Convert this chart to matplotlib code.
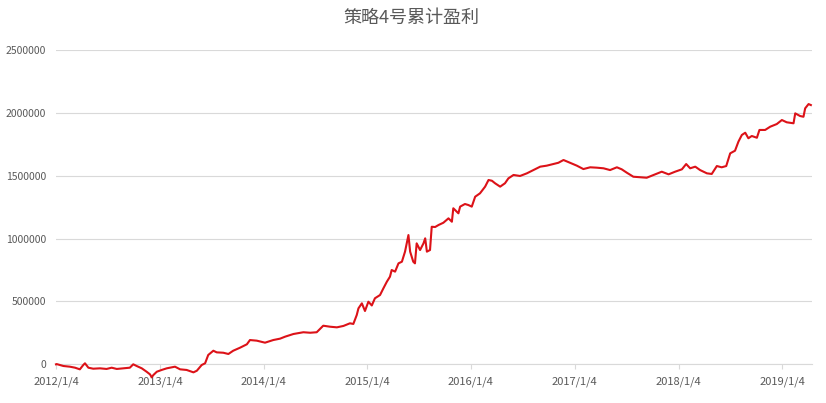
import matplotlib
matplotlib.use("Agg")
import matplotlib.pyplot as plt
import numpy as np

plt.rcParams['font.family'] = ['Noto Sans CJK SC', 'DejaVu Sans']

# cumulative profit
dates = [
    "2012-01-04", "2012-01-06", "2012-01-30", "2012-02-22", "2012-03-11", "2012-03-28",
    "2012-04-09", "2012-04-15", "2012-04-27", "2012-05-14", "2012-06-07", "2012-06-30",
    "2012-07-18", "2012-08-05", "2012-08-28", "2012-09-20", "2012-10-02", "2012-10-14",
    "2012-11-01", "2012-11-18", "2012-11-30", "2012-12-06", "2012-12-12", "2012-12-24",
    "2013-01-10", "2013-01-28", "2013-02-26", "2013-03-16", "2013-04-08", "2013-05-02",
    "2013-05-14", "2013-05-31", "2013-06-12", "2013-06-23", "2013-07-11", "2013-07-23",
    "2013-08-15", "2013-09-02", "2013-09-19", "2013-10-13", "2013-11-06", "2013-11-17",
    "2013-12-11", "2014-01-09", "2014-02-07", "2014-03-03", "2014-03-21", "2014-04-19",
    "2014-05-24", "2014-06-17", "2014-07-10", "2014-08-02", "2014-08-26", "2014-09-19",
    "2014-10-12", "2014-11-04", "2014-11-16", "2014-11-28", "2014-12-04", "2014-12-16",
    "2014-12-27", "2015-01-08", "2015-01-20", "2015-01-31", "2015-02-18", "2015-03-02",
    "2015-03-14", "2015-03-25", "2015-03-31", "2015-04-12", "2015-04-24", "2015-05-06",
    "2015-05-17", "2015-05-29", "2015-06-04", "2015-06-15", "2015-06-21", "2015-06-27",
    "2015-07-09", "2015-07-21", "2015-07-27", "2015-08-02", "2015-08-13", "2015-08-19",
    "2015-08-31", "2015-09-12", "2015-09-29", "2015-10-17", "2015-10-29", "2015-11-03",
    "2015-11-21", "2015-11-27", "2015-12-14", "2015-12-26", "2016-01-07", "2016-01-19",
    "2016-02-05", "2016-02-23", "2016-03-06", "2016-03-18", "2016-03-29", "2016-04-16",
    "2016-05-03", "2016-05-15", "2016-06-02", "2016-06-25", "2016-07-19", "2016-08-11",
    "2016-09-04", "2016-09-27", "2016-10-21", "2016-11-07", "2016-11-25", "2016-12-18",
    "2017-01-11", "2017-02-03", "2017-02-27", "2017-03-22", "2017-04-15", "2017-05-08",
    "2017-06-01", "2017-06-18", "2017-07-06", "2017-07-29", "2017-08-28", "2017-09-14",
    "2017-10-08", "2017-11-06", "2017-11-30", "2017-12-23", "2018-01-16", "2018-01-31",
    "2018-02-14", "2018-03-04", "2018-03-21", "2018-04-14", "2018-05-01", "2018-05-19",
    "2018-06-05", "2018-06-21", "2018-07-05", "2018-07-22", "2018-08-03", "2018-08-15",
    "2018-08-27", "2018-09-07", "2018-09-19", "2018-10-07", "2018-10-16", "2018-11-05",
    "2018-11-23", "2018-12-16", "2019-01-03", "2019-01-20", "2019-02-13", "2019-02-19",
    "2019-03-08", "2019-03-20", "2019-03-26", "2019-04-07", "2019-04-15",
]
profit = [
    0, 2000, -13500, -19000, -27000, -40000,
    -5600, 8000, -27000, -35000, -32000, -37000,
    -27000, -37000, -32000, -27000, 0, -13500,
    -32000, -59000, -80000, -103000, -85000, -59000,
    -45000, -32000, -19000, -40000, -45000, -64000,
    -51000, -5600, 8000, 74000, 108000, 95000,
    92000, 82000, 108000, 132000, 159000, 193000,
    188000, 172000, 193000, 204000, 220000, 241000,
    255000, 251000, 255000, 307000, 299000, 294000,
    305000, 326000, 321000, 392000, 445000, 485000,
    424000, 498000, 468000, 525000, 551000, 605000,
    657000, 697000, 750000, 737000, 803000, 816000,
    896000, 1028000, 896000, 816000, 803000, 962000,
    909000, 962000, 1002000, 896000, 909000, 1094000,
    1092000, 1108000, 1126000, 1161000, 1134000, 1241000,
    1201000, 1254000, 1275000, 1267000, 1254000, 1333000,
    1360000, 1413000, 1466000, 1460000, 1440000, 1413000,
    1440000, 1479000, 1506000, 1498000, 1519000, 1545000,
    1572000, 1580000, 1593000, 1603000, 1625000, 1603000,
    1580000, 1553000, 1567000, 1564000, 1559000, 1545000,
    1567000, 1551000, 1524000, 1492000, 1487000, 1484000,
    1506000, 1532000, 1511000, 1532000, 1551000, 1593000,
    1559000, 1572000, 1545000, 1519000, 1514000, 1577000,
    1567000, 1577000, 1678000, 1699000, 1771000, 1824000,
    1842000, 1798000, 1816000, 1802000, 1864000, 1864000,
    1890000, 1911000, 1943000, 1925000, 1917000, 1996000,
    1975000, 1969000, 2036000, 2070000, 2062000,
]
tick_dates = ["2012-01-04", "2013-01-04", "2014-01-04", "2015-01-04",
              "2016-01-04", "2017-01-04", "2018-01-04", "2019-01-04"]
tick_labels = ["2012/1/4", "2013/1/4", "2014/1/4", "2015/1/4",
               "2016/1/4", "2017/1/4", "2018/1/4", "2019/1/4"]
y_ticks = [0, 500000, 1000000, 1500000, 2000000, 2500000]

x = np.array(dates, dtype="datetime64[D]")
xt = np.array(tick_dates, dtype="datetime64[D]")

fig = plt.figure(figsize=(8.26, 4.03), dpi=100)
ax = fig.add_axes([56/826, 1-364.3/403, (811.7-56)/826, (364.3-50)/403])

ax.plot(x, profit, color='#dc1218', linewidth=1.5, clip_on=False, zorder=3)

ax.set_ylim(0, 2500000)
ax.set_xlim(np.datetime64("2012-01-04"), np.datetime64("2019-04-18"))
ax.set_yticks(y_ticks)
ax.set_yticklabels([str(v) for v in y_ticks])
ax.set_xticks(xt)
ax.set_xticklabels(tick_labels)

ax.grid(axis='y', color='#d9d9d9', linewidth=0.8)
ax.set_axisbelow(True)
for s in ['top', 'right', 'left']:
    ax.spines[s].set_visible(False)
ax.spines['bottom'].set_color('#d9d9d9')
ax.spines['bottom'].set_linewidth(0.8)
ax.tick_params(axis='y', length=0, pad=7, labelsize=7.5, labelcolor='#595959')
ax.tick_params(axis='x', length=3.5, width=0.8, color='#d9d9d9', pad=5,
               labelsize=8, labelcolor='#595959')

fig.text(0.498, 1-18/403, "策略4号累计盈利", ha='center', va='center',
         fontsize=13, color='#595959')

fig.savefig("out.png", dpi=100)
